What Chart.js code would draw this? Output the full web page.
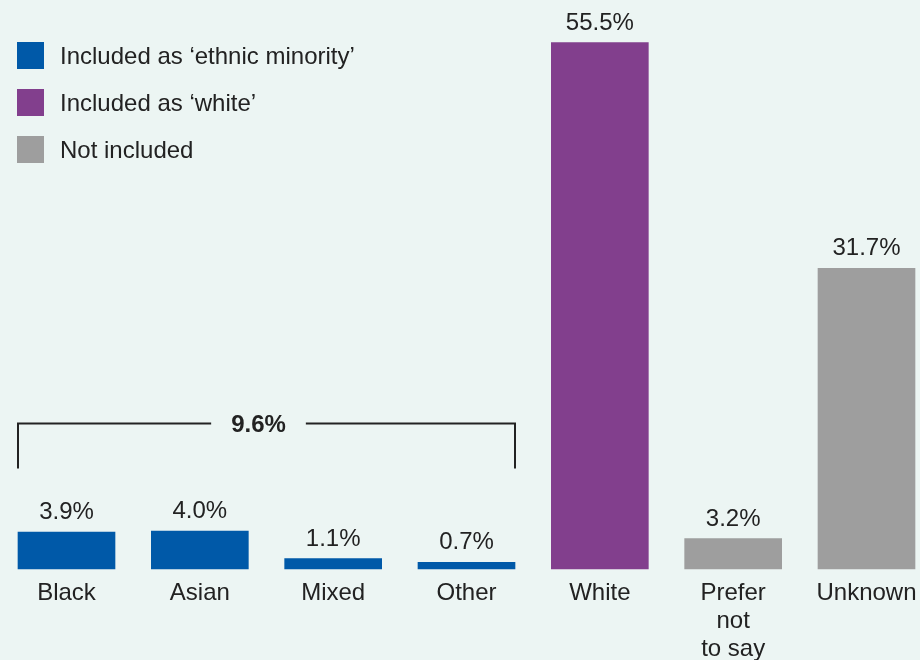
<!DOCTYPE html>
<html>
<head>
<meta charset="utf-8">
<script src="https://cdn.jsdelivr.net/npm/chart.js@4"></script>
<style>
  html, body { margin: 0; padding: 0; background: #ECF5F3; }
  #wrap { width: 920px; height: 660px; }
</style>
</head>
<body>
<div id="wrap"><canvas id="chart" width="920" height="660"></canvas></div>
<script>
// Data
const categories = ['Black', 'Asian', 'Mixed', 'Other', 'White', ['Prefer', 'not', 'to say'], 'Unknown'];
const values = [3.9, 4.0, 1.1, 0.7, 55.5, 3.2, 31.7];
const groupOf = [0, 0, 0, 0, 1, 2, 2];
const legendLabels = ['Included as \u2018ethnic minority\u2019', 'Included as \u2018white\u2019', 'Not included'];
const groupColors = ['#0059A8', '#823F8D', '#9E9E9E'];
const bracketText = '9.6%';
const bracketFrom = 0, bracketTo = 3;

const textColor = '#222222';
const FONT = '"Liberation Sans", Arial, sans-serif';
const BAR_W = 97;

// Paint the page-coloured background
const backgroundPlugin = {
    id: 'bg',
    beforeDraw: (chart) => {
        const {ctx, width, height} = chart;
        ctx.save();
        ctx.fillStyle = '#ECF5F3';
        ctx.fillRect(0, 0, width, height);
        ctx.restore();
    }
};

// Legend squares top-left
const legendPlugin = {
    id: 'sideLegend',
    afterDraw: (chart) => {
        const {ctx} = chart;
        ctx.save();
        ctx.font = '24px ' + FONT;
        ctx.textBaseline = 'middle';
        ctx.textAlign = 'left';
        legendLabels.forEach((label, i) => {
            const y = 42 + i * 47;
            ctx.fillStyle = groupColors[i];
            ctx.fillRect(17, y, 27, 27);
            ctx.fillStyle = textColor;
            ctx.fillText(label, 60, y + 15);
        });
        ctx.restore();
    }
};

// Value labels above each bar
const valueLabels = {
    id: 'valueLabels',
    afterDatasetsDraw: (chart) => {
        const {ctx} = chart;
        const meta = chart.getDatasetMeta(0);
        ctx.save();
        ctx.font = '24px ' + FONT;
        ctx.fillStyle = textColor;
        ctx.textAlign = 'center';
        ctx.textBaseline = 'alphabetic';
        meta.data.forEach((bar, i) => {
            ctx.fillText(values[i].toFixed(1) + '%', bar.x, bar.y - 13);
        });
        ctx.restore();
    }
};

// Bracket over the ethnic minority bars
const bracketPlugin = {
    id: 'bracket',
    afterDatasetsDraw: (chart) => {
        const {ctx} = chart;
        const xs = chart.scales.x, ys = chart.scales.y;
        const left = xs.getPixelForValue(bracketFrom) - BAR_W / 2;
        const right = xs.getPixelForValue(bracketTo) + BAR_W / 2;
        const top = Math.round(ys.getPixelForValue(15.4)) + 0.5;
        const bottom = ys.getPixelForValue(10.6);
        const mid = (left + right) / 2 - 8;
        ctx.save();
        ctx.font = 'bold 24px ' + FONT;
        const tw = ctx.measureText(bracketText).width;
        const gap = tw / 2 + 20;
        ctx.strokeStyle = textColor;
        ctx.lineWidth = 2;
        ctx.beginPath();
        ctx.moveTo(left, bottom);
        ctx.lineTo(left, top);
        ctx.lineTo(mid - gap, top);
        ctx.moveTo(mid + gap, top);
        ctx.lineTo(right, top);
        ctx.lineTo(right, bottom);
        ctx.stroke();
        ctx.fillStyle = textColor;
        ctx.textAlign = 'center';
        ctx.textBaseline = 'middle';
        ctx.fillText(bracketText, mid, top + 2);
        ctx.restore();
    }
};

new Chart(document.getElementById('chart'), {
    type: 'bar',
    data: {
        labels: categories,
        datasets: [{
            data: values,
            backgroundColor: groupOf.map(g => groupColors[g]),
            barThickness: BAR_W,
            borderWidth: 0,
            clip: false
        }]
    },
    options: {
        responsive: false,
        animation: false,
        layout: { padding: { left: 66.5, right: 53.5, top: 0, bottom: 0 } },
        scales: {
            x: {
                offset: false,
                grid: { display: false, drawTicks: false },
                border: { display: false },
                ticks: {
                    autoSkip: false,
                    maxRotation: 0,
                    minRotation: 0,
                    padding: 10,
                    color: textColor,
                    font: { family: FONT, size: 24, lineHeight: 28 / 24 }
                },
                afterFit: (scale) => {
                    scale.height = 91;
                    scale.paddingLeft = 0;
                    scale.paddingRight = 0;
                }
            },
            y: {
                display: false,
                min: 0,
                max: 60
            }
        },
        plugins: {
            legend: { display: false },
            tooltip: { enabled: false }
        }
    },
    plugins: [backgroundPlugin, valueLabels, bracketPlugin, legendPlugin]
});
</script>
</body>
</html>
